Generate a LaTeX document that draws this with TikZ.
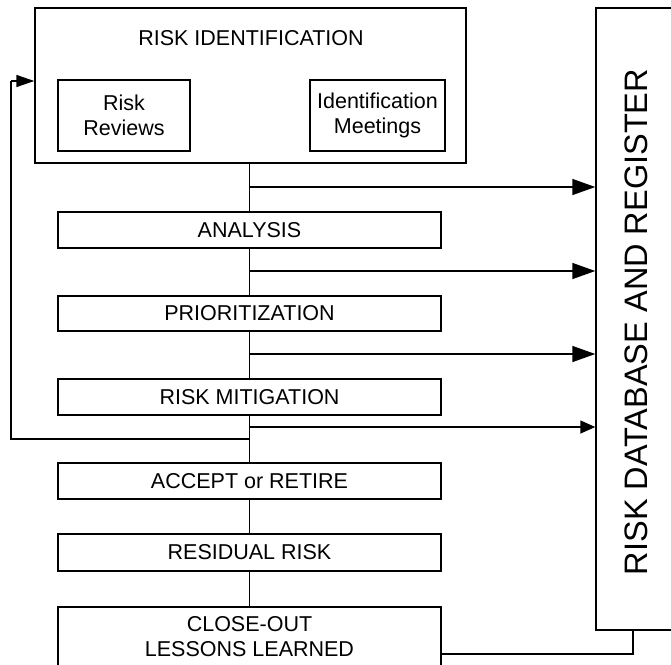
\documentclass[tikz,border=0pt]{standalone}
\usepackage{fontspec}
\setmainfont{Liberation Sans}
\usetikzlibrary{arrows.meta}
\tikzset{
  box/.style={draw, line width=1.4pt, rectangle, inner sep=0pt, align=center,
    font=\fontsize{21.5}{25}\selectfont},
  stepbox/.style={box, minimum width=383pt, minimum height=35pt},
  sub/.style={box, minimum height=71pt},
  link/.style={line width=1.4pt},
  arr/.style={link, -{Triangle[length=23pt,width=16pt]}},
  arrsmall/.style={link, -{Triangle[length=15pt,width=13pt]}},
}
\begin{document}
\begin{tikzpicture}[x=1pt,y=-1pt]
\useasboundingbox (0,0) rectangle (671,664);

% identification block with its two sub-activities
\node[box, minimum width=431pt, minimum height=155pt] (ident) at (250.5,85.5) {};
\node[font=\fontsize{21.5}{25}\selectfont] (identtitle) at (251,38) {RISK IDENTIFICATION};
\node[sub, minimum width=132pt] (reviews) at (124,115.5) {Risk\\Reviews};
\node[sub, minimum width=135pt] (meetings) at (377.5,115.5) {Identification\\Meetings};

% process steps
\node[stepbox, minimum height=36pt] (analysis) at (249.5,230) {ANALYSIS};
\node[stepbox] (prior) at (249.5,313.5) {PRIORITIZATION};
\node[stepbox, minimum height=36pt] (mitig) at (249.5,397) {RISK MITIGATION};
\node[stepbox, minimum height=36pt] (accept) at (249.5,481) {ACCEPT or RETIRE};
\node[stepbox, minimum height=37pt] (resid) at (249.5,552.5) {RESIDUAL RISK};
\node[stepbox, minimum height=59pt] (close) at (249.5,636.5) {CLOSE-OUT\\LESSONS LEARNED};

% register
\node[box, minimum width=80pt, minimum height=622pt] (db) at (636,319) {};
\node[rotate=90, font=\fontsize{32.5}{38}\selectfont] (dbtext) at (636,322) {RISK DATABASE AND REGISTER};

% main trunk
\draw[link] (ident.south -| analysis.north) -- (analysis.north);
\draw[link] (analysis.south) -- (prior.north);
\draw[link] (prior.south) -- (mitig.north);
\draw[link] (mitig.south) -- (accept.north);
\draw[link] (accept.south) -- (resid.north);
\draw[link] (resid.south) -- (close.north);

% records sent to the register
\coordinate (b1) at (250,187);
\coordinate (b2) at (250,271);
\coordinate (b3) at (250,354);
\coordinate (b4) at (250,427);
\draw[arr] (b1) -- (b1 -| db.west);
\draw[arr] (b2) -- (b2 -| db.west);
\draw[arr] (b3) -- (b3 -| db.west);
\draw[arrsmall] (b4) -- (b4 -| db.west);

% feedback loop to identification
\coordinate (fb) at (250,439);
\coordinate (fbl) at (11,439);
\coordinate (fbt) at (11,81);
\draw[link] (fb) -- (fbl) -- (fbt);
\draw[link, -{Triangle[length=18pt,width=12pt]}] (fbt) -- (fbt -| ident.west);

% close-out to register
\coordinate (cl) at (633,654);
\draw[link] (close.east |- cl) -- (cl) -- (cl |- db.south);
\end{tikzpicture}
\end{document}
